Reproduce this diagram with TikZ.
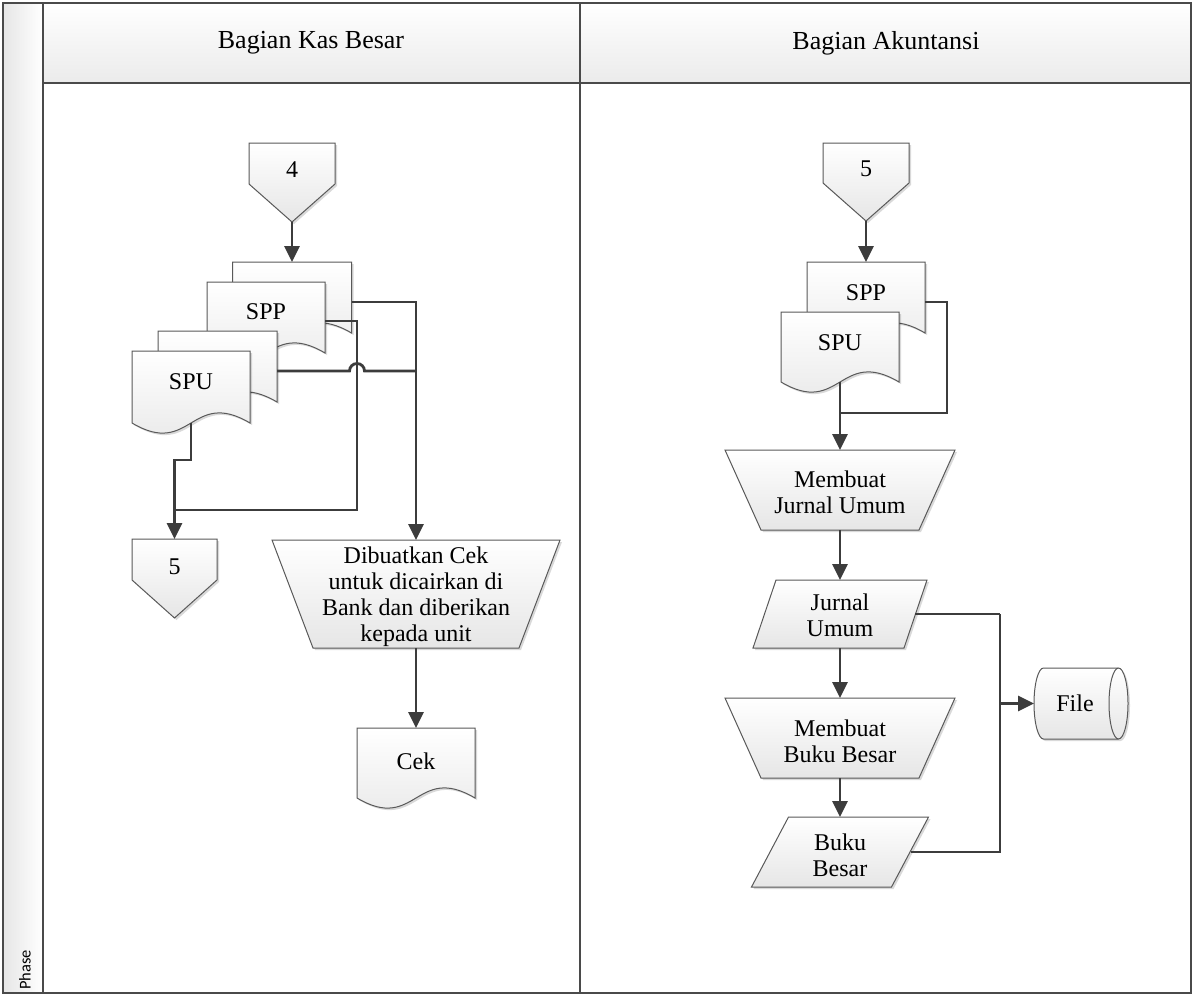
\documentclass[tikz,border=0pt]{standalone}
\usepackage{fontspec}
\setmainfont{Liberation Serif}
\newfontfamily\phasefont{Carlito}
\usetikzlibrary{arrows.meta,shadows,calc}
\definecolor{linec}{HTML}{3C3C3C}
\definecolor{edgec}{HTML}{595959}
\definecolor{fillc}{HTML}{E6E6E6}
\definecolor{framec}{HTML}{4A4A4A}
\newcommand\docshape[1]{\draw[shp] (#1.north west) -- (#1.north east) -- (#1.south east) .. controls ([yshift=35pt]#1.south) and ([yshift=-35pt]#1.south) .. (#1.south west) -- cycle;}
\newcommand\offpage[2]{\draw[shp] (#1.north west) -- (#1.north east) -- ([yshift=-#2pt]#1.north east) -- (#1.south) -- ([yshift=-#2pt]#1.north west) -- cycle;}
\newcommand\manop[2]{\draw[shp] (#1.north west) -- (#1.north east) -- ([xshift=-#2pt]#1.south east) -- ([xshift=#2pt]#1.south west) -- cycle;}
\newcommand\parashape[2]{\draw[shp] ([xshift=#2pt]#1.north west) -- (#1.north east) -- ([xshift=-#2pt]#1.south east) -- (#1.south west) -- cycle;}
\begin{document}
\begin{tikzpicture}[x=1pt,y=-1pt,
 conn/.style={draw=linec,line width=2.8pt,-{Triangle[length=16pt,width=15pt]}},
 wire/.style={draw=linec,line width=2.8pt},
 shp/.style={draw=edgec,line width=1pt,top color=white,bottom color=fillc,drop shadow={shadow xshift=2pt,shadow yshift=-2pt,opacity=0.15,fill=black}},
 shapebox/.style={rectangle,draw=none,inner sep=0pt,outer sep=0pt},
 lbl/.style={font=\fontsize{24}{26}\selectfont,align=center,inner sep=0pt},
 hdr/.style={font=\fontsize{26}{28}\selectfont,align=center,inner sep=0pt},
]
\useasboundingbox (0,0) rectangle (1193,996);
% frame
\shade[left color=fillc,right color=white] (3,3) rectangle (43,993);
\shade[top color=white,bottom color=fillc!80] (43,3) rectangle (1191,83);
\draw[framec,line width=1.5pt] (3,3) rectangle (1191,993);
\draw[framec,line width=1.5pt] (43,3) -- (43,993);
\draw[framec,line width=1.5pt] (43,83) -- (1191,83);
\draw[framec,line width=1.5pt] (580,3) -- (580,993);
\node[hdr] (h1) at (311,43) {Bagian Kas Besar};
\node[hdr] (h2) at (886,43) {Bagian Akuntansi};
\node[rotate=90,anchor=west,inner sep=0pt,font=\phasefont\fontsize{16.5}{18}\selectfont] (phase) at (25,990) {Phase};

% ---------- left lane ----------
\node[shapebox,minimum width=86pt,minimum height=79pt] (c4) at (292,182.5) {};
\offpage{c4}{41}
\node[lbl] (t4) at (292,170) {4};

\node[shapebox,minimum width=119pt,minimum height=71pt] (sppb) at (292,297.5) {};
\docshape{sppb}
\node[shapebox,minimum width=118pt,minimum height=71pt] (spp1) at (266,317.5) {};
\docshape{spp1}
\node[lbl] (tspp1) at (266,312) {SPP};
\node[shapebox,minimum width=119pt,minimum height=71pt] (spub) at (217.5,366.5) {};
\docshape{spub}
\node[shapebox,minimum width=118pt,minimum height=72pt] (spu1) at (191,387) {};
\docshape{spu1}
\node[lbl] (tspu1) at (191,382) {SPU};

\node[shapebox,minimum width=85pt,minimum height=79pt] (c5) at (174.5,578.5) {};
\offpage{c5}{41}
\node[lbl] (t5) at (174.5,567) {5};

\node[shapebox,minimum width=288pt,minimum height=108pt] (dib) at (416,594) {};
\manop{dib}{41}
\node[lbl] (tdib) at (416,597) {Dibuatkan Cek\\untuk dicairkan di\\Bank dan diberikan\\kepada unit};

\node[shapebox,minimum width=118pt,minimum height=70pt] (cek) at (416,763) {};
\docshape{cek}
\node[lbl] (tcek) at (416,761) {Cek};

\coordinate (jA) at (357,510);
\coordinate (jB) at (174.5,510);
\coordinate (jC) at (416,371);

\draw[conn] (c4.south) -- (sppb.north);
\draw[conn] ([yshift=-4.5pt]sppb.east) -| (dib.north);
\draw[wire] ([yshift=-3.5pt]spp1.east) -| (jA) -- (jB);
\draw[wire] (spu1.south) -- ++(0,37) -| (jB);
\draw[conn] (jB) -- (c5.north);
\draw[wire] ([yshift=-4.5pt]spub.east) -- (349.5,371) arc[start angle=180,end angle=0,radius=7.5pt] -- (jC);
\draw[conn] (dib.south) -- (cek.north);

% ---------- right lane ----------
\node[shapebox,minimum width=86pt,minimum height=78pt] (c5r) at (866,182) {};
\offpage{c5r}{40}
\node[lbl] (t5r) at (866,169) {5};

\node[shapebox,minimum width=118pt,minimum height=71pt] (sppr) at (866,297.5) {};
\docshape{sppr}
\node[lbl] (tsppr) at (866,293) {SPP};
\node[shapebox,minimum width=118pt,minimum height=70pt] (spur) at (840,347) {};
\docshape{spur}
\node[lbl] (tspur) at (840,343) {SPU};

\node[shapebox,minimum width=230pt,minimum height=80pt] (mju) at (840,490) {};
\manop{mju}{36}
\node[lbl] (tmju) at (840,492) {Membuat\\Jurnal Umum};

\node[shapebox,minimum width=174pt,minimum height=68pt] (jum) at (840,614) {};
\parashape{jum}{23}
\node[lbl] (tjum) at (840,615) {Jurnal\\Umum};

\node[shapebox,minimum width=230pt,minimum height=80pt] (mbb) at (840,738) {};
\manop{mbb}{36}
\node[lbl] (tmbb) at (840,741) {Membuat\\Buku Besar};

\node[shapebox,minimum width=177pt,minimum height=70pt] (bb) at (840,852) {};
\parashape{bb}{37}
\node[lbl] (tbb) at (840,855) {Buku\\Besar};

\node[shapebox,minimum width=94pt,minimum height=71pt] (file) at (1081,703.5) {};
\draw[shp] ([xshift=9.5pt]file.north west) -- ([xshift=-9.5pt]file.north east) arc[start angle=90,end angle=-90,x radius=9.5pt,y radius=35.5pt] -- ([xshift=9.5pt]file.south west) arc[start angle=270,end angle=90,x radius=9.5pt,y radius=35.5pt] -- cycle;
\draw[draw=edgec,line width=1pt] ([xshift=-9.5pt]file.north east) arc[start angle=90,end angle=270,x radius=9.5pt,y radius=35.5pt];
\node[lbl] (tfile) at (1075,703) {File};

\coordinate (jD) at (840,413);
\coordinate (jE) at (947,413);
\coordinate (jF) at (1000,614);

\draw[conn] (c5r.south) -- (sppr.north);
\draw[wire] ([yshift=-4.5pt]sppr.east) -| (jE) -- (jD);
\draw[conn] (spur.south) -- (mju.north);
\draw[conn] (mju.south) -- (jum.north);
\draw[conn] (jum.south) -- (mbb.north);
\draw[conn] (mbb.south) -- (bb.north);
\draw[wire] ([xshift=-12pt]jum.east) -- (jF);
\draw[wire] ([xshift=-18pt]bb.east) -| (jF);
\draw[conn] (file.west -| jF) -- (file.west);
\end{tikzpicture}
\end{document}
